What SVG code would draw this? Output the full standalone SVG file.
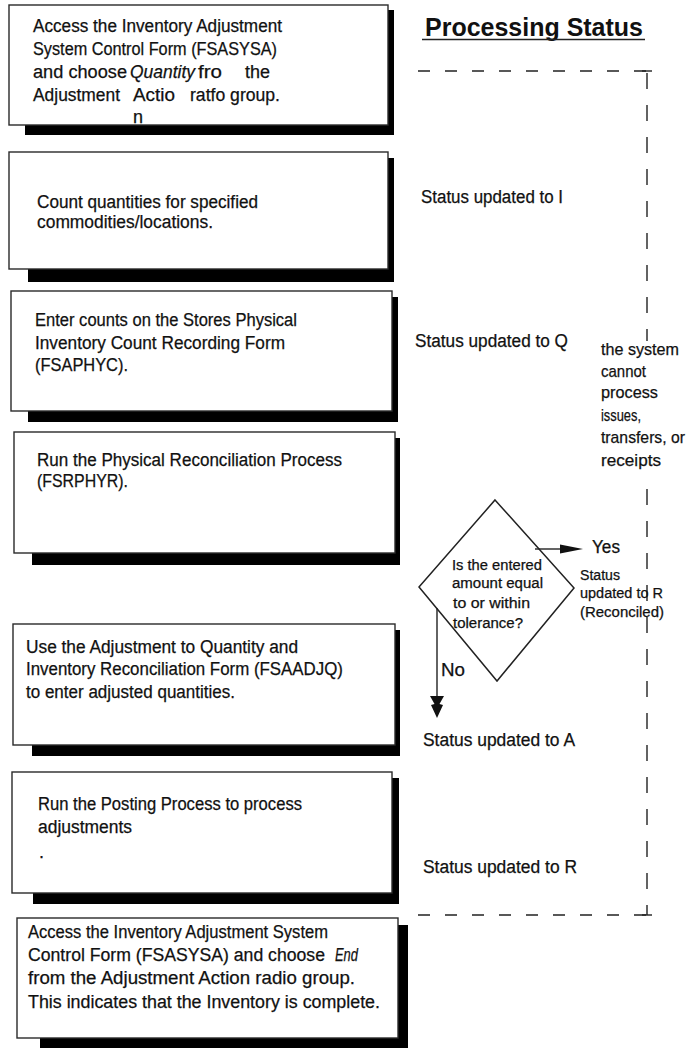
<svg xmlns="http://www.w3.org/2000/svg" width="689" height="1048" viewBox="0 0 689 1048">
  <style>
    .sh { fill: #000; }
    .bx { fill: #fff; stroke: #2a2a2a; stroke-width: 1.4; }
    .t { font-family: "Liberation Sans", Arial, sans-serif; font-size: 18px; fill: #111; stroke: #111; stroke-width: 0.25; }
    .i { font-style: italic; }
    .sm { font-size: 14px; }
    .md { font-size: 17px; }
    .ttl { font-family: "Liberation Sans", Arial, sans-serif; font-size: 26px; font-weight: bold; fill: #111; }
    .frameH { stroke: #222; stroke-width: 1.4; fill: none; stroke-dasharray: 12 15; }
    .frameV { stroke: #222; stroke-width: 1.4; fill: none; stroke-dasharray: 16 16; }
    .ln { stroke: #222; stroke-width: 1.4; fill: none; }
    .dm { fill: #fff; stroke: #222; stroke-width: 1.5; }
  </style>

  <!-- Title -->
  <g id="title">
    <text class="ttl" x="425" y="36" textLength="218" lengthAdjust="spacingAndGlyphs">Processing Status</text>
    <line class="ln" x1="422" y1="39.5" x2="645" y2="39.5" stroke-width="1.5"/>
  </g>

  <!-- Dashed processing-status frame -->
  <g id="status-frame">
    <line class="frameH" x1="418" y1="71" x2="647" y2="71"/>
    <line class="frameV" x1="647" y1="71" x2="647" y2="915" stroke-dashoffset="-2"/>
    <line class="frameH" x1="418" y1="915" x2="647" y2="915"/>
    <line class="ln" x1="642" y1="71" x2="652" y2="71"/>
    <line class="ln" x1="642" y1="915" x2="652" y2="915"/>
  </g>

  <!-- Step 1 -->
  <g id="step1">
    <rect class="sh" x="25" y="10" width="369" height="125"/>
    <rect class="bx" x="9" y="5" width="379" height="120"/>
    <text class="t" x="33" y="32" textLength="249" lengthAdjust="spacingAndGlyphs">Access the Inventory Adjustment</text>
    <text class="t" x="33" y="55" textLength="244" lengthAdjust="spacingAndGlyphs">System Control Form (FSASYSA)</text>
    <text class="t" x="33" y="78" textLength="94" lengthAdjust="spacingAndGlyphs">and choose</text>
    <text class="t i" x="130" y="78" textLength="65" lengthAdjust="spacingAndGlyphs">Quantity</text>
    <text class="t" x="198" y="78" textLength="24" lengthAdjust="spacingAndGlyphs">fro</text>
    <text class="t" x="245" y="78" textLength="25" lengthAdjust="spacingAndGlyphs">the</text>
    <text class="t" x="33" y="101" textLength="87" lengthAdjust="spacingAndGlyphs">Adjustment</text>
    <text class="t" x="133" y="101" textLength="42" lengthAdjust="spacingAndGlyphs">Actio</text>
    <text class="t" x="190" y="101" textLength="90" lengthAdjust="spacingAndGlyphs">ratfo group.</text>
    <text class="t" x="133" y="123">n</text>
  </g>

  <!-- Step 2 -->
  <g id="step2">
    <rect class="sh" x="28" y="158" width="366" height="124"/>
    <rect class="bx" x="9" y="152" width="379" height="117"/>
    <text class="t" x="37" y="208" textLength="221" lengthAdjust="spacingAndGlyphs">Count quantities for specified</text>
    <text class="t" x="37" y="228" textLength="176" lengthAdjust="spacingAndGlyphs">commodities/locations.</text>
  </g>

  <!-- Step 3 -->
  <g id="step3">
    <rect class="sh" x="28" y="297" width="370" height="125"/>
    <rect class="bx" x="11" y="291" width="381" height="120"/>
    <text class="t" x="35" y="326" textLength="262" lengthAdjust="spacingAndGlyphs">Enter counts on the Stores Physical</text>
    <text class="t" x="35" y="349" textLength="250" lengthAdjust="spacingAndGlyphs">Inventory Count Recording Form</text>
    <text class="t" x="35" y="371" textLength="93" lengthAdjust="spacingAndGlyphs">(FSAPHYC).</text>
  </g>

  <!-- Step 4 -->
  <g id="step4">
    <rect class="sh" x="32" y="438" width="368" height="127"/>
    <rect class="bx" x="14" y="432" width="381" height="121"/>
    <text class="t" x="37" y="466" textLength="305" lengthAdjust="spacingAndGlyphs">Run the Physical Reconciliation Process</text>
    <text class="t" x="37" y="487" textLength="91" lengthAdjust="spacingAndGlyphs">(FSRPHYR).</text>
  </g>

  <!-- Step 5 -->
  <g id="step5">
    <rect class="sh" x="32" y="630" width="368" height="126"/>
    <rect class="bx" x="13" y="624" width="382" height="121"/>
    <text class="t" x="26" y="653" textLength="272" lengthAdjust="spacingAndGlyphs">Use the Adjustment to Quantity and</text>
    <text class="t" x="26" y="675" textLength="317" lengthAdjust="spacingAndGlyphs">Inventory Reconciliation Form (FSAADJQ)</text>
    <text class="t" x="26" y="698" textLength="209" lengthAdjust="spacingAndGlyphs">to enter adjusted quantities.</text>
  </g>

  <!-- Step 6 -->
  <g id="step6">
    <rect class="sh" x="33" y="778" width="366" height="126"/>
    <rect class="bx" x="12" y="772" width="380" height="121"/>
    <text class="t" x="38" y="810" textLength="264" lengthAdjust="spacingAndGlyphs">Run the Posting Process to process</text>
    <text class="t" x="38" y="833" textLength="94" lengthAdjust="spacingAndGlyphs">adjustments</text>
    <text class="t" x="39" y="858">.</text>
  </g>

  <!-- Step 7 -->
  <g id="step7">
    <rect class="sh" x="40" y="925" width="368" height="130"/>
    <rect class="bx" x="17" y="918" width="381" height="120"/>
    <text class="t" x="28" y="938" textLength="300" lengthAdjust="spacingAndGlyphs">Access the Inventory Adjustment System</text>
    <text class="t" x="28" y="961" textLength="297" lengthAdjust="spacingAndGlyphs">Control Form (FSASYSA) and choose</text>
    <text class="t i" x="335" y="961" textLength="23" lengthAdjust="spacingAndGlyphs">End</text>
    <text class="t" x="28" y="984" textLength="327" lengthAdjust="spacingAndGlyphs">from the Adjustment Action radio group.</text>
    <text class="t" x="28" y="1008" textLength="352" lengthAdjust="spacingAndGlyphs">This indicates that the Inventory is complete.</text>
  </g>

  <!-- Status annotations -->
  <g id="status-i">
    <text class="t" x="421" y="203" textLength="142" lengthAdjust="spacingAndGlyphs">Status updated to I</text>
  </g>
  <g id="status-q">
    <text class="t" x="415" y="347" textLength="153" lengthAdjust="spacingAndGlyphs">Status updated to Q</text>
  </g>
  <g id="status-a">
    <text class="t" x="423" y="746" textLength="152" lengthAdjust="spacingAndGlyphs">Status updated to A</text>
  </g>
  <g id="status-r">
    <text class="t" x="423" y="873" textLength="154" lengthAdjust="spacingAndGlyphs">Status updated to R</text>
  </g>

  <!-- Side note over the frame edge -->
  <g id="lock-note">
    <rect x="598" y="341" width="91" height="141" fill="#fff"/>
    <text class="t md" x="601" y="355" textLength="78" lengthAdjust="spacingAndGlyphs">the system</text>
    <text class="t md" x="601" y="377" textLength="45" lengthAdjust="spacingAndGlyphs">cannot</text>
    <text class="t md" x="601" y="398" textLength="57" lengthAdjust="spacingAndGlyphs">process</text>
    <text class="t md" x="601" y="421" textLength="40" lengthAdjust="spacingAndGlyphs">issues,</text>
    <text class="t md" x="601" y="443" textLength="84" lengthAdjust="spacingAndGlyphs">transfers, or</text>
    <text class="t md" x="601" y="466" textLength="60" lengthAdjust="spacingAndGlyphs">receipts</text>
  </g>

  <!-- Tolerance decision -->
  <g id="decision">
    <polygon class="dm" points="495,500 574,588 497,681 419,587"/>
    <text class="t sm" x="452" y="570" textLength="90" lengthAdjust="spacingAndGlyphs">Is the entered</text>
    <text class="t sm" x="452" y="588" textLength="91" lengthAdjust="spacingAndGlyphs">amount equal</text>
    <text class="t sm" x="453" y="608" textLength="77" lengthAdjust="spacingAndGlyphs">to or within</text>
    <text class="t sm" x="453" y="628" textLength="70" lengthAdjust="spacingAndGlyphs">tolerance?</text>
  </g>

  <g id="status-reconciled">
    <text class="t" x="592" y="553" font-size="15" textLength="28" lengthAdjust="spacingAndGlyphs">Yes</text>
    <text class="t sm" x="580" y="580" textLength="40" lengthAdjust="spacingAndGlyphs">Status</text>
    <text class="t sm" x="580" y="598" textLength="83" lengthAdjust="spacingAndGlyphs">updated to R</text>
    <text class="t sm" x="580" y="617" textLength="84" lengthAdjust="spacingAndGlyphs">(Reconciled)</text>
  </g>

  <!-- Connectors -->
  <g id="connectors">
    <line class="ln" x1="535" y1="549" x2="562" y2="549"/>
    <polygon points="560,544.5 583,549 560,553.5" fill="#111"/>
    <line class="ln" x1="437" y1="608" x2="437" y2="700"/>
    <path d="M430,696 L444,696 L439.5,704 L443,705 L437,718 L431,705 L434.5,704 Z" fill="#111"/>
    <text class="t" x="441" y="676" font-size="17" textLength="24" lengthAdjust="spacingAndGlyphs">No</text>
  </g>
</svg>
